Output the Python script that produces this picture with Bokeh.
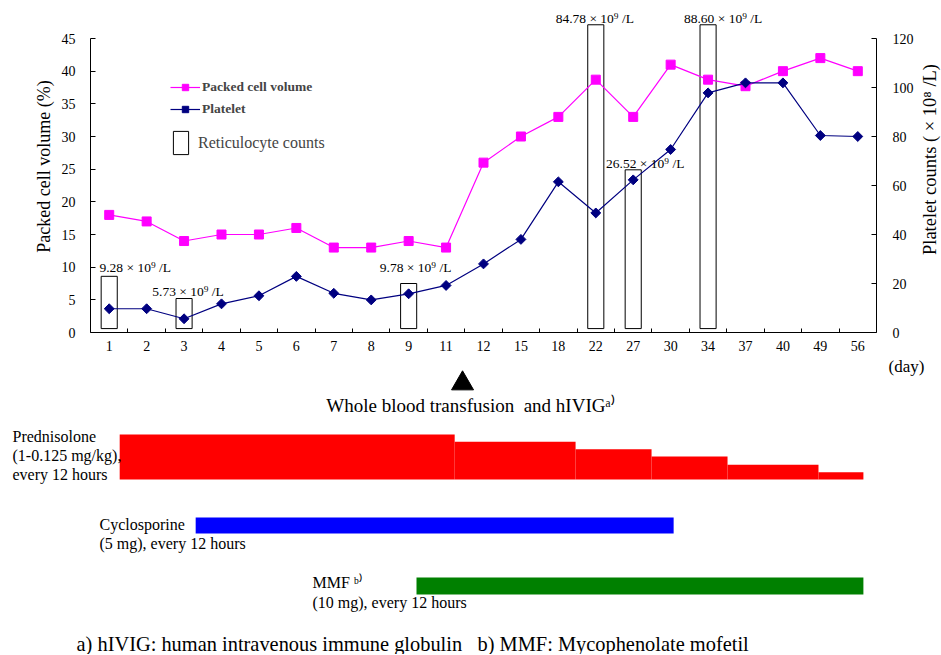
import numpy as np
from bokeh.plotting import figure
from bokeh.models import Range1d, LinearAxis, FixedTicker, Legend, LegendItem
from bokeh.layouts import column, row
from bokeh.core.properties import value
from bokeh.embed import file_html
from bokeh.resources import INLINE

# ---------------- data ----------------
days = ["1", "2", "3", "4", "5", "6", "7", "8", "9", "11", "12", "15", "18",
        "22", "27", "30", "34", "37", "40", "49", "56"]
pcv = [18, 17, 14, 15, 15, 16, 13, 13, 14, 13, 26, 30, 33, 38.7, 33, 41,
       38.7, 37.7, 40, 42, 40]
platelet = [9.7, 9.7, 5.6, 11.7, 15, 22.9, 16, 13.3, 15.8, 19.2, 28, 38, 61.5,
            48.8, 62.3, 74.7, 97.8, 101.9, 101.9, 80.4, 80]
retic_days = ["1", "3", "9", "22", "27", "34"]
retic_counts = [9.28, 5.73, 9.78, 84.78, 26.52, 88.60]
retic_box_top = [8.6, 5.2, 7.5, 47.1, 24.9, 47.1]   # read on the left axis
pcv_ticks = [0, 5, 10, 15, 20, 25, 30, 35, 40, 45]
plt_ticks = [0, 20, 40, 60, 80, 100, 120]

# treatments, expressed in positions along the day axis
pred_start = [0.78, 9.73, 12.96, 14.99, 17.02, 19.45]
pred_end = [9.73, 12.96, 14.99, 17.02, 19.45, 20.65]
pred_dose = [1.0, 0.84, 0.67, 0.51, 0.33, 0.16]      # relative dose level
cyclo_start, cyclo_end = [2.81], [15.58]
mmf_start, mmf_end = [8.71], [20.65]
transfusion_pos = [9.94]

# ---------------- layout constants ----------------
FONT = "Liberation Serif"
N = len(days)
PAGE_W = 941
LEFT, RIGHT = 90, 40
FW = 786
SIDE_W = PAGE_W - LEFT - FW - RIGHT      # strip holding the right axis title
FRAME_BOTTOM = 332
PPU = 294 / 45                  # px per PCV unit
Y1_END = FRAME_BOTTOM / PPU
Y2_END = Y1_END * 120 / 45
W = FW / N                      # px per day slot
P1_H = 357
TOTAL_H = 654
NB = "\u00a0"


def px(sx):
    return (sx - LEFT) / W


def py(sy):
    return (FRAME_BOTTOM - sy) / PPU


xs = [i + 0.5 for i in range(N)]
pos = {d: i + 0.5 for i, d in enumerate(days)}
rx = [pos[d] for d in retic_days]

p1 = figure(frame_width=FW, frame_height=FRAME_BOTTOM, x_range=Range1d(0, N),
            y_range=Range1d(0, Y1_END), output_backend="svg",
            toolbar_location=None, min_border_left=LEFT, min_border_right=RIGHT,
            min_border_top=0, min_border_bottom=P1_H - FRAME_BOTTOM)
p1.extra_y_ranges = {"plt": Range1d(0, Y2_END)}
p1.outline_line_color = None
p1.grid.visible = False

# x axis
xa = p1.below[0]
xa.ticker = FixedTicker(ticks=xs, minor_ticks=list(range(1, N)))
xa.major_label_overrides = {x: d for x, d in zip(xs, days)}
xa.major_tick_in = 0
xa.major_tick_out = 0
xa.minor_tick_in = 4
xa.minor_tick_out = 0
xa.major_label_standoff = 8
xa.major_label_text_font = FONT
xa.major_label_text_font_size = "14px"
xa.major_label_text_color = "black"
xa.axis_line_color = "black"
xa.minor_tick_line_color = "black"

# left axis
ya = p1.left[0]
ya.ticker = FixedTicker(ticks=pcv_ticks)
ya.bounds = (0, 45)
ya.major_tick_in = 5
ya.major_tick_out = 0
ya.minor_tick_in = 0
ya.minor_tick_out = 0
ya.major_label_standoff = 15
ya.major_label_text_font = FONT
ya.major_label_text_font_size = "14px"
ya.major_label_text_color = "black"
ya.axis_label = "Packed cell volume (%)"
ya.axis_label_text_font = FONT
ya.axis_label_text_font_size = "18px"
ya.axis_label_text_font_style = "normal"
ya.axis_label_text_color = "black"
ya.axis_label_standoff = 5
ya.axis_line_color = "black"
ya.major_tick_line_color = "black"

# right axis
ra = LinearAxis(y_range_name="plt", ticker=FixedTicker(ticks=plt_ticks),
                bounds=(0, 120))
ra.major_tick_in = 5
ra.major_tick_out = 0
ra.minor_tick_in = 0
ra.minor_tick_out = 0
ra.major_label_standoff = 16
ra.major_label_text_font = FONT
ra.major_label_text_font_size = "14px"
ra.major_label_text_color = "black"
ra.axis_line_color = "black"
ra.major_tick_line_color = "black"
p1.add_layout(ra, "right")

# reticulocyte boxes
BOX_HALF = 0.215
boxes = p1.quad(left=[x - BOX_HALF for x in rx], right=[x + BOX_HALF for x in rx],
                bottom=0.6, top=retic_box_top, fill_color=None,
                line_color="black", line_width=1)

# series
pcv_line = p1.line(xs, pcv, line_color="#FF00FF", line_width=1.2)
pcv_pts = p1.scatter(xs, pcv, marker="square", size=9, color="#FF00FF")
plt_line = p1.line(xs, platelet, line_color="#000080", line_width=1.2,
                   y_range_name="plt")
plt_pts = p1.scatter(xs, platelet, marker="square", angle=np.pi / 4, size=7,
                     color="#000080", y_range_name="plt")

# reticulocyte labels
lab_dx = [26, 4, 7, -1, 12, 15]      # px
lab_dy = [9, 7, 16, 6, 6, 6]         # px above box top
p1.text(x=[x + dx / W for x, dx in zip(rx, lab_dx)],
        y=[t + dy / PPU for t, dy in zip(retic_box_top, lab_dy)],
        text=[f"{v:.2f} \u00d7 10\u2079 /L" for v in retic_counts],
        text_font=value(FONT), text_font_size="13.5px", text_align="center",
        text_baseline="middle", text_color="black")

leg1 = Legend(items=[LegendItem(label="Packed cell volume", renderers=[pcv_line, pcv_pts]),
                     LegendItem(label="Platelet", renderers=[plt_line, plt_pts])],
              location=(80, 215), glyph_width=30, glyph_height=16,
              label_height=16, spacing=6, padding=0, margin=0, label_standoff=2,
              label_text_font=FONT, label_text_font_size="13.5px",
              label_text_font_style="bold", border_line_alpha=0,
              background_fill_alpha=0)
p1.add_layout(leg1)
leg2 = Legend(items=[LegendItem(label="Reticulocyte counts", renderers=[boxes])],
              location=(81, 175), glyph_width=19, glyph_height=29,
              label_height=29, padding=0, margin=0, label_standoff=8,
              label_text_font=FONT, label_text_font_size="16px",
              border_line_alpha=0, background_fill_alpha=0)
p1.add_layout(leg2)

# ---------------- right-axis title strip ----------------
p3 = figure(frame_width=SIDE_W, frame_height=FRAME_BOTTOM,
            x_range=Range1d(0, SIDE_W), y_range=Range1d(0, Y1_END),
            x_axis_location=None, y_axis_location=None,
            min_border_left=0, min_border_right=0, min_border_top=0,
            min_border_bottom=P1_H - FRAME_BOTTOM,
            output_backend="svg", toolbar_location=None)
p3.outline_line_color = None
p3.grid.visible = False
p3.text(x=[SIDE_W - 12], y=[py(159)], text=["Platelet counts ( \u00d7 10\u2078 /L)"],
        angle=np.pi / 2, text_font=value(FONT), text_font_size="18.5px",
        text_align="center", text_baseline="middle", text_color="black")

# ---------------- treatment panel ----------------
p2 = figure(width=PAGE_W, height=TOTAL_H - P1_H,
            x_range=Range1d(px(0), px(PAGE_W)), y_range=Range1d(TOTAL_H, P1_H),
            x_axis_location=None, y_axis_location=None, min_border=0,
            output_backend="svg", toolbar_location=None)
p2.outline_line_color = None
p2.grid.visible = False

RED_BASE, RED_H = 479, 45
p2.quad(left=pred_start, right=pred_end, bottom=RED_BASE,
        top=[RED_BASE - RED_H * d for d in pred_dose],
        fill_color="#FF0000", line_color=None)
p2.quad(left=cyclo_start, right=cyclo_end, bottom=533, top=517,
        fill_color="#0000FF", line_color=None)
p2.quad(left=mmf_start, right=mmf_end, bottom=594, top=577,
        fill_color="#008000", line_color=None)
p2.scatter(x=transfusion_pos, y=[383], marker="triangle", size=22,
           color="black")


def txt(sx, sy, s, size="16px", align="left"):
    p2.text(x=[px(sx)], y=[sy], text=[s], text_font=value(FONT),
            text_font_size=size, text_align=align, text_baseline="middle",
            text_color="black")


txt(888, 366, "(day)", "17px")
txt(470, 405, "Whole blood transfusion " + NB + "and hIVIG\u1d43\u207e", "19px", "center")
txt(12, 436, "Prednisolone")
txt(12, 455, "(1-0.125 mg/kg),")
txt(12, 474, "every 12 hours")
txt(99, 524, "Cyclosporine")
txt(99, 543, "(5 mg), every 12 hours")
txt(312, 582, "MMF \u1d47\u207e")
txt(312, 602, "(10 mg), every 12 hours")
txt(76, 643, "a) hIVIG: human intravenous immune globulin " + NB * 2
    + "b) MMF: Mycophenolate mofetil", "20.4px")

layout = column(row(p1, p3), column(p2))
open("out.html", "w").write(file_html(layout, INLINE))
